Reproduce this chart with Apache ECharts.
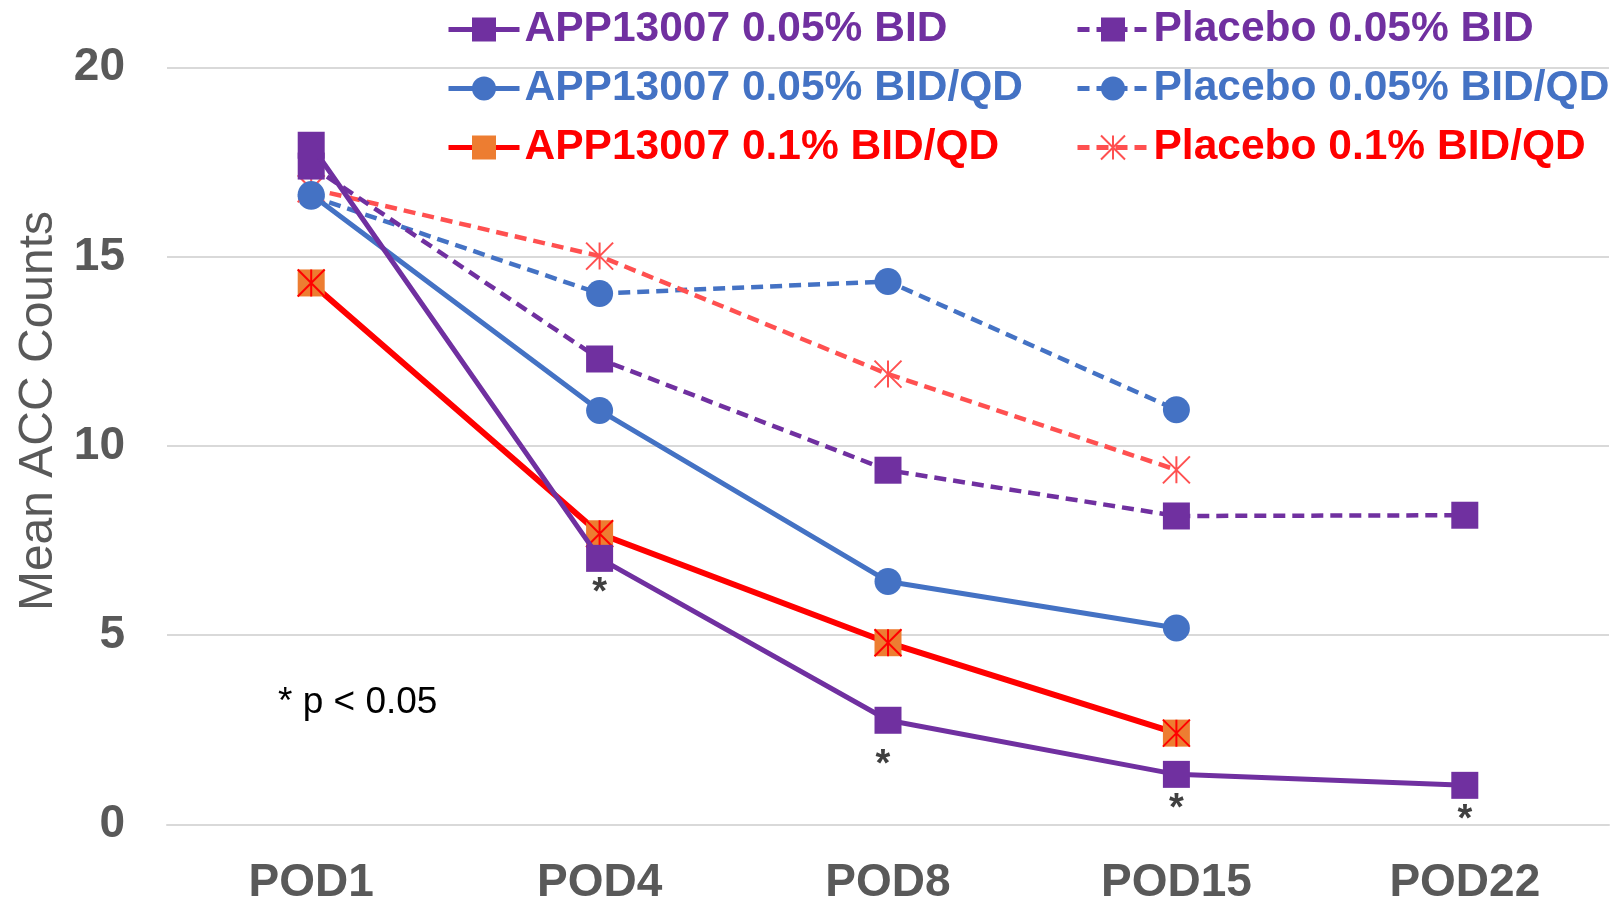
<!DOCTYPE html>
<html>
<head>
<meta charset="utf-8">
<script src="https://cdn.jsdelivr.net/npm/echarts@6/dist/echarts.min.js"></script>
<style>
html,body{margin:0;padding:0;background:#ffffff;}
#chart{width:1617px;height:902px;}
</style>
</head>
<body>
<div id="chart"></div>
<script>
// ---- data ----
const categories = ['POD1', 'POD4', 'POD8', 'POD15', 'POD22'];
const app005Bid   = [17.95, 7.03, 2.75, 1.32, 1.03];
const app005BidQd = [16.65, 10.94, 6.42, 5.19, null];
const app01BidQd  = [14.31, 7.68, 4.80, 2.41, null];
const pbo005Bid   = [17.40, 12.30, 9.36, 8.15, 8.17];
const pbo005BidQd = [16.60, 14.03, 14.35, 10.96, null];
const pbo01BidQd  = [16.80, 15.02, 11.90, 9.37, null];
const sigMarks    = ['', '*', '*', '*', '*'];
const yMin = 0, yMax = 20, yInterval = 5;
const seriesNames = [
  'APP13007 0.05% BID', 'APP13007 0.05% BID/QD', 'APP13007 0.1% BID/QD',
  'Placebo 0.05% BID', 'Placebo 0.05% BID/QD', 'Placebo 0.1% BID/QD'
];
const noteText = '* p < 0.05';
const yAxisTitle = 'Mean ACC Counts';

// ---- styles ----
const FONT = '"Liberation Sans", Arial, Helvetica, sans-serif';
const PURPLE = '#7030A0', BLUE = '#4472C4', RED = '#FF0000', ORANGE = '#ED7D31', LRED = '#FF5050';
const ASTER = 'path://M10,0L10,20M0,0L20,20M0,20L20,0';
const DASH = [12, 7];
const sigOffsets = {2: [-5, 10]};

const appBidData = app005Bid.map((v, i) => ({
  value: v,
  label: {
    show: !!sigMarks[i],
    formatter: sigMarks[i] || '',
    offset: sigOffsets[i] || [0, 0]
  }
}));

const chart = echarts.init(document.getElementById('chart'), null, {renderer: 'canvas'});

const legendCommon = {
  orient: 'vertical', top: 8, padding: 0,
  itemWidth: 71, itemHeight: 30, itemGap: 16,
  lineStyle: {width: 5},
  textStyle: {fontSize: 42.5, fontWeight: 'bold', fontFamily: FONT, lineHeight: 42},
  selectedMode: false
};

const option = {
  animation: false,
  backgroundColor: '#ffffff',
  grid: {left: 167, right: 8, top: 67.7, bottom: 77.7, containLabel: false, outerBoundsMode: 'none'},
  legend: [
    Object.assign({}, legendCommon, {
      left: 446,
      data: [
        {name: seriesNames[0], textStyle: {color: PURPLE}},
        {name: seriesNames[1], textStyle: {color: BLUE}},
        {name: seriesNames[2], textStyle: {color: RED}}
      ]
    }),
    Object.assign({}, legendCommon, {
      left: 1075,
      data: [
        {name: seriesNames[3], textStyle: {color: PURPLE}},
        {name: seriesNames[4], textStyle: {color: BLUE}},
        {name: seriesNames[5], textStyle: {color: RED}}
      ]
    })
  ],
  xAxis: {
    type: 'category',
    data: categories,
    boundaryGap: true,
    axisTick: {show: false},
    axisLine: {show: true, lineStyle: {color: '#D9D9D9', width: 2}},
    axisLabel: {margin: 36, fontSize: 46, lineHeight: 46, fontWeight: 'bold', color: '#595959', fontFamily: FONT}
  },
  yAxis: {
    type: 'value',
    min: yMin, max: yMax, interval: yInterval,
    name: yAxisTitle,
    nameLocation: 'middle',
    nameGap: 104,
    nameTextStyle: {fontSize: 48, color: '#595959', fontFamily: FONT, padding: [0, 0, 0, 70]},
    axisLine: {show: false},
    axisTick: {show: false},
    axisLabel: {margin: 42, fontSize: 46, fontWeight: 'bold', color: '#595959', fontFamily: FONT, padding: [14, 0, 0, 0]},
    splitLine: {lineStyle: {color: '#D9D9D9', width: 2}}
  },
  graphic: [{
    type: 'text',
    x: 278, y: 703,
    style: {text: noteText, fontSize: 37, fontFamily: FONT, fill: '#000000', textVerticalAlign: 'middle', textAlign: 'left'}
  }],
  series: [
    {
      name: seriesNames[4], type: 'line', data: pbo005BidQd, z: 2,
      symbol: 'circle', symbolSize: 27,
      itemStyle: {color: BLUE, borderWidth: 0},
      lineStyle: {color: BLUE, width: 4.5, type: DASH}
    },
    {
      name: seriesNames[5], type: 'line', data: pbo01BidQd, z: 2,
      symbol: ASTER, symbolSize: 27,
      itemStyle: {color: 'rgba(0,0,0,0)', borderColor: LRED, borderWidth: 2},
      lineStyle: {color: LRED, width: 4.5, type: DASH}
    },
    {
      name: seriesNames[3], type: 'line', data: pbo005Bid, z: 2,
      symbol: 'rect', symbolSize: 27,
      itemStyle: {color: PURPLE, borderWidth: 0},
      lineStyle: {color: PURPLE, width: 4.5, type: DASH}
    },
    {
      name: seriesNames[1], type: 'line', data: app005BidQd, z: 3,
      symbol: 'circle', symbolSize: 27,
      itemStyle: {color: BLUE, borderWidth: 0},
      lineStyle: {color: BLUE, width: 5}
    },
    {
      name: seriesNames[2], type: 'line', data: app01BidQd, z: 3,
      symbol: 'rect', symbolSize: 27,
      itemStyle: {color: ORANGE, borderWidth: 0},
      lineStyle: {color: RED, width: 6}
    },
    {
      name: 'overlay-asterisk', type: 'line', data: app01BidQd, z: 4, silent: true,
      symbol: ASTER, symbolSize: 27,
      itemStyle: {color: 'rgba(0,0,0,0)', borderColor: RED, borderWidth: 2},
      lineStyle: {width: 0, opacity: 0}
    },
    {
      name: seriesNames[0], type: 'line', data: appBidData, z: 5,
      symbol: 'rect', symbolSize: 27,
      itemStyle: {color: PURPLE, borderWidth: 0},
      lineStyle: {color: PURPLE, width: 5},
      label: {position: 'bottom', distance: 3, fontSize: 38, fontWeight: 'bold', color: '#404040', fontFamily: FONT}
    }
  ]
};

chart.setOption(option);
</script>
</body>
</html>
